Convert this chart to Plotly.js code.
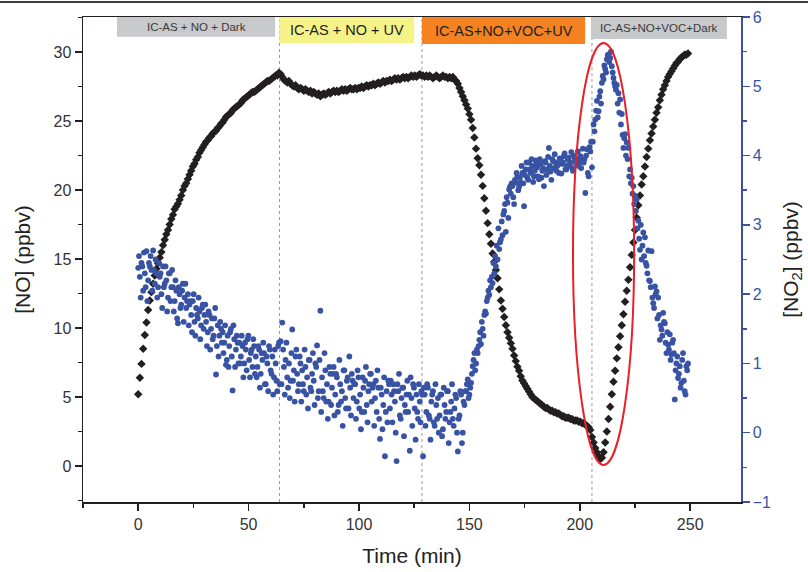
<!DOCTYPE html>
<html>
<head>
<meta charset="utf-8">
<script src="https://cdn.plot.ly/plotly-3.0.1.min.js"></script>
<style>html,body{margin:0;padding:0;background:#fff;}#chart{width:808px;height:572px;}</style>
</head>
<body>
<div id="chart"></div>
<script>
// ---- sampling grid (min) ----
const timeStep = 0.75;

// ---- [NO] (ppbv), black diamonds, per phase ----
const noPhase1Start = 0;
const noPhase1 = [5.2,6.4,7.4,8.5,9.5,10.4,11.3,12.0,12.6,13.2,13.8,14.3,14.7,15.1,15.5,16.0,16.4,16.8,17.1,17.5,
17.9,18.2,18.6,18.8,19.0,19.3,19.6,20.0,20.3,20.5,20.8,21.1,21.4,21.7,21.9,22.2,22.4,22.7,22.9,23.1,
23.3,23.5,23.6,23.8,23.9,24.1,24.2,24.3,24.5,24.6,24.8,24.9,25.1,25.3,25.4,25.5,25.6,25.8,25.9,26.0,
26.1,26.2,26.3,26.5,26.6,26.7,26.8,26.9,27.0,27.1,27.1,27.2,27.3,27.4,27.5,27.6,27.7,27.8,27.9,27.9,
28.0,28.1,28.2,28.3,28.3,28.5];
const noPhase2Start = 64.5;
const noPhase2 = [28.4,28.2,28.0,27.9,27.8,27.9,27.7,27.6,27.5,27.6,27.4,27.3,27.4,27.3,27.2,27.3,27.2,27.1,27.2,27.0,
27.1,27.0,26.9,27.0,26.8,26.9,27.0,26.9,27.0,27.1,27.0,27.1,27.2,27.1,27.2,27.1,27.2,27.3,27.2,27.3,
27.2,27.3,27.4,27.3,27.3,27.4,27.3,27.4,27.4,27.5,27.4,27.5,27.6,27.5,27.6,27.6,27.7,27.6,27.7,27.8,
27.7,27.8,27.9,27.8,27.9,27.9,28.0,27.9,28.0,28.1,28.0,28.1,28.0,28.1,28.2,28.1,28.2,28.1,28.2,28.3,
28.2,28.3,28.2,28.3,28.4,28.3];
const noPhase3Start = 129;
const noPhase3 = [28.3,28.2,28.3,28.2,28.3,28.2,28.1,28.2,28.3,28.2,28.1,28.2,28.3,28.2,28.2,28.1,28.2,28.1,28.2,28.0,
27.9,27.7,27.4,27.1,26.8,26.5,26.2,25.9,25.5,25.1,24.5,23.8,23.0,22.3,21.8,21.1,20.3,19.4,18.5,17.6,
16.8,16.1,15.4,14.8,14.2,13.6,12.8,12.0,11.4,10.8,10.2,9.7,9.3,8.9,8.5,8.0,7.6,7.2,6.9,6.5,
6.2,6.0,5.8,5.6,5.4,5.2,5.0,4.9,4.8,4.7,4.6,4.5,4.4,4.3,4.2,4.2,4.1,4.0,4.0,3.9,
3.9,3.8,3.8,3.7,3.6,3.6,3.5,3.5,3.5,3.4,3.4,3.3,3.3,3.3,3.2,3.2,3.1,3.1,3.0,2.9,
2.8,2.6];
const noPhase4Start = 205.5;
const noPhase4 = [2.1,1.7,1.3,1.0,0.7,0.5,0.6,1.0,1.7,2.5,3.4,4.3,5.2,6.1,6.9,7.8,8.6,9.4,10.2,11.0,
11.9,12.7,13.5,14.4,15.3,16.2,17.1,18.0,18.9,19.6,20.4,21.0,21.7,22.4,23.0,23.6,24.1,24.6,25.1,25.6,
26.0,26.5,26.9,27.3,27.6,27.9,28.2,28.4,28.6,28.8,29.0,29.2,29.3,29.5,29.6,29.7,29.8,29.8,29.9];

// ---- [NO2] (ppbv), blue circles, per phase (two interleaved sample sets) ----
const no2Phase1Start = 0;
const no2Phase1 = [2.38,2.25,2.45,2.05,2.3,2.62,2.2,2.4,2.35,2.63,2.15,
2.3,2.1,2.25,2.0,2.4,2.15,2.2,1.95,2.3,2.1,
2.1,1.9,2.05,1.58,2.0,1.85,2.15,1.95,1.8,2.0,
1.85,1.7,1.9,1.6,1.8,1.65,1.75,1.55,1.85,1.7,
1.6,1.45,1.7,1.5,1.35,1.65,0.84,1.55,1.4,1.5,
1.45,1.3,0.98,1.4,1.25,1.5,0.61,1.35,1.2,1.3,
1.3,1.1,1.25,1.0,1.2,1.35,1.05,1.15,0.95,1.25,
1.1,0.95,1.2,0.85,1.05,1.15,0.7,1.0,1.25,0.9,1.1,0.8,1.0,0.6,1.3];
const no2Phase1bStart = 0.375;
const no2Phase1b = [2.55,1.95,2.4,2.6,2.1,1.9,2.45,2.55,2.05,2.35,2.5,
1.95,2.45,2.3,1.8,2.1,2.4,1.75,2.3,1.9,2.35,
1.75,2.2,1.65,2.1,1.8,2.05,1.6,2.15,1.9,1.55,
1.9,1.45,2.0,1.4,1.7,1.95,1.35,1.8,1.5,1.85,
1.25,1.75,1.2,1.65,1.4,1.8,1.25,1.1,1.6,1.3,
1.15,1.55,1.05,0.95,1.45,1.1,1.55,0.95,1.4,1.0,
1.0,1.4,0.8,1.3,0.9,1.4,0.8,1.2,1.35,0.85,
0.8,1.25,0.65,1.15,1.3,0.7,1.1,0.6,1.2,0.85,0.55,1.2,0.75,1.25,0.7];
const no2Phase2Start = 64.5;
const no2Phase2 = [1.32,1.59,0.95,1.05,0.8,1.0,0.75,1.49,0.9,1.1,0.85,
0.7,1.0,0.9,0.6,0.95,0.8,1.05,0.65,0.85,0.75,1.0,
1.26,0.6,1.76,0.8,0.5,0.9,0.7,0.45,0.85,0.65,0.95,
0.55,0.8,0.4,0.7,0.6,0.9,0.5,0.75,0.35,0.65,0.85,
0.5,0.7,0.45,0.8,0.55,0.3,0.65,0.75,0.4,0.6,0.85,
0.45,0.7,0.5,0.3,0.65,-0.09,0.55,0.4,-0.34,0.6,0.75,
0.35,0.55,0.7,0.45,-0.41,0.6,0.25,0.5,0.65,0.4,0.55,
0.3,-0.26,0.5,0.7,0.35,0.55,0.2,0.45,0.6];
const no2Phase2bStart = 64.875;
const no2Phase2b = [0.7,1.2,0.55,1.3,0.65,0.5,1.15,0.75,0.45,1.2,0.6,
1.1,0.45,0.7,1.2,0.55,0.35,1.05,0.6,1.15,0.4,0.95,
0.5,1.05,0.3,0.6,1.15,0.45,0.2,0.95,0.4,0.85,0.25,
0.85,0.3,1.05,0.45,0.1,0.9,0.35,0.8,1.1,0.25,0.75,
0.7,0.2,0.9,0.35,0.05,0.8,0.3,0.95,0.15,0.7,0.85,
0.65,0.1,0.75,0.9,0.2,0.65,0.05,0.8,0.3,0.15,0.7,
0.75,0.15,0.6,0.0,0.7,0.85,0.2,0.65,-0.05,0.3,0.75,
0.55,0.8,0.1,0.65,-0.1,0.3,0.7,0.15,0.55];
const no2Phase3Start = 129;
const no2Phase3 = [-0.34,0.55,0.3,0.65,0.2,0.45,0.6,0.1,0.4,0.5,
0.25,0.55,0.05,0.4,0.3,0.6,0.15,0.45,0.2,0.35,
0.5,-0.27,0.25,0.55,0.0,0.4,
0.6,0.77,0.55,0.72,0.96,1.15,1.0,
1.15,1.34,1.28,1.5,1.7,1.72,1.95,1.99,2.1,2.16,2.3,2.4,2.5,2.65,2.79,2.85,
3.2,2.9,3.32,3.51,3.45,3.56,3.3,
3.61,3.7,3.55,3.61,3.75,3.27,3.8,3.68,3.9,3.75,3.85,3.7,3.93,3.83,3.66,3.88,3.78,3.56,3.9,3.8,
4.11,3.77,3.95,3.82,3.9,3.85,3.75,3.95,3.88,3.99,3.8,3.85,3.97,3.9,3.82,4.0,3.92,3.95,3.85,3.99,
3.93,3.9,3.46,4.09,3.7,4.06];
const no2Phase3bStart = 129.375;
const no2Phase3b = [0.65,0.1,0.7,0.25,-0.1,0.55,0.15,0.7,0.2,0.0,
0.55,-0.05,0.65,0.2,0.6,-0.15,0.3,0.7,0.1,0.55,
0.0,0.2,0.6,-0.15,0.45,0.6,
0.7,0.5,0.65,0.85,1.05,0.9,1.2,
1.25,1.45,1.6,1.4,1.75,1.9,2.05,2.2,2.25,2.45,2.55,2.7,2.95,2.75,3.05,3.15,
3.3,3.4,3.1,3.55,3.6,3.4,3.65,
3.75,3.5,3.68,3.85,3.6,3.72,3.9,3.65,3.8,3.95,3.62,3.78,3.88,3.7,3.95,3.68,
3.82,3.92,3.72,3.98,3.85,3.65,3.92,4.02,3.78,3.88,3.96,3.74,3.9,4.03,3.8,3.94,3.86,4.05,3.78,3.97,
3.88,4.06,3.92,3.82,4.1,3.95,4.0,3.75,4.12,4.2];
const no2Phase4Start = 205.5;
const no2Phase4 = [3.83,4.45,4.52,4.79,4.64,4.93,5.05,5.1,5.25,5.39,
5.46,5.41,5.29,5.12,5.0,5.02,4.9,4.81,4.6,4.11,
4.31,4.19,4.11,3.8,3.68,3.56,3.42,3.37,3.06,2.64,
2.5,2.89,2.82,2.41,2.63,2.19,2.62,1.87,2.11,2.04,
1.95,1.34,1.49,1.73,1.58,1.15,1.27,1.42,1.13,1.34,
0.48,1.0,0.79,0.96,0.72,1.15,0.6,0.96,1.0];
const no2Phase4bStart = 205.875;
const no2Phase4b = [4.2,4.35,4.65,4.55,4.85,4.75,5.15,5.3,5.2,5.45,
5.35,5.5,5.2,5.05,4.95,4.75,4.62,4.45,4.3,4.25,
4.0,3.95,3.7,3.6,3.45,3.3,3.2,2.95,2.8,3.0,
2.7,2.55,2.45,2.3,2.2,2.1,1.95,1.8,2.0,1.65,
1.7,1.55,1.4,1.6,1.3,1.45,1.2,1.05,1.3,1.15,
0.9,1.1,0.85,0.65,1.05,0.75,0.55,0.9];

// ---- phase boundaries and labels ----
const phaseLines = [64, 128.5, 205.5];
const phaseLabels = ["IC-AS + NO + Dark", "IC-AS + NO + UV", "IC-AS+NO+VOC+UV", "IC-AS+NO+VOC+Dark"];
const xTicks = [0, 50, 100, 150, 200, 250];
const yTicks = [0, 5, 10, 15, 20, 25, 30];
const y2Ticks = [-1, 0, 1, 2, 3, 4, 5, 6];

function expand(segs) {
  const xs = [], ys = [];
  segs.forEach(([start, vals]) => vals.forEach((v, i) => { xs.push(start + i * timeStep); ys.push(v); }));
  return [xs, ys];
}
const [noX, noY] = expand([[noPhase1Start, noPhase1], [noPhase2Start, noPhase2], [noPhase3Start, noPhase3], [noPhase4Start, noPhase4]]);
const [no2X, no2Y] = expand([
  [no2Phase1Start, no2Phase1], [no2Phase1bStart, no2Phase1b],
  [no2Phase2Start, no2Phase2], [no2Phase2bStart, no2Phase2b],
  [no2Phase3Start, no2Phase3], [no2Phase3bStart, no2Phase3b],
  [no2Phase4Start, no2Phase4], [no2Phase4bStart, no2Phase4b]]);

const BLUE = '#3953a4';
const DARK = '#231f20';
const FONT = 'Liberation Sans, Arial, Helvetica, sans-serif';

const traces = [
  { x: no2X, y: no2Y, yaxis: 'y2', type: 'scatter', mode: 'markers', name: 'NO2',
    marker: { symbol: 'circle', size: 5.8, color: BLUE } },
  { x: noX, y: noY, type: 'scatter', mode: 'markers', name: 'NO',
    marker: { symbol: 'diamond', size: 6.5, color: DARK } }
];

const shapes = [];
phaseLines.forEach(t => shapes.push({ type: 'line', xref: 'x', yref: 'paper', x0: t, x1: t, y0: 0, y1: 1,
  line: { color: '#9a9a9a', width: 1, dash: 'dot' }, layer: 'below' }));
// label boxes (x in data units, y in paper units)
const boxes = [
  { x0: -9.6, x1: 62.0, y0: 0.9594, fill: '#c8c9cb', size: 11.5, color: '#3a3a3a' },
  { x0: 63.9, x1: 125.0, y0: 0.9464, fill: '#f5f288', size: 14.5, color: '#231f20' },
  { x0: 128.5, x1: 202.4, y0: 0.9443, fill: '#f58220', size: 14.5, color: '#231f20' },
  { x0: 205.0, x1: 266.6, y0: 0.9546, fill: '#c8c9cb', size: 11.5, color: '#3a3a3a' }
];
const annotations = [];
boxes.forEach((b, i) => {
  shapes.push({ type: 'rect', xref: 'x', yref: 'paper', x0: b.x0, x1: b.x1, y0: b.y0, y1: 1,
    fillcolor: b.fill, line: { width: 0 }, layer: 'above' });
  annotations.push({ xref: 'x', yref: 'paper', x: (b.x0 + b.x1) / 2, y: (b.y0 + 1) / 2, text: phaseLabels[i],
    showarrow: false, font: { family: FONT, size: b.size, color: b.color }, xanchor: 'center', yanchor: 'middle' });
});
// red ellipse highlighting the NO2 peak
shapes.push({ type: 'circle', xref: 'x', yref: 'y', x0: 196.9, x1: 224.6, y0: 0.07, y1: 30.66,
  line: { color: '#e8202a', width: 2 }, layer: 'above' });
// dark rule at the top edge of the figure
shapes.push({ type: 'line', xref: 'paper', yref: 'paper', x0: -0.2, x1: 1.2, y0: 1.031, y1: 1.031,
  line: { color: '#3c3c3c', width: 2 } });

const layout = {
  width: 808, height: 572,
  margin: { l: 83, r: 67, t: 17, b: 70 },
  paper_bgcolor: '#fff', plot_bgcolor: '#fff',
  showlegend: false,
  font: { family: FONT, color: DARK },
  xaxis: {
    range: [-25, 273], tickvals: xTicks, ticks: 'outside', ticklen: 7, tickwidth: 1.5, tickcolor: DARK,
    minor: { dtick: 25, tick0: 0, ticks: 'outside', ticklen: 4, tickwidth: 1.5, tickcolor: DARK },
    showline: true, linecolor: DARK, linewidth: 1.5, mirror: true, showgrid: false, zeroline: false,
    tickfont: { family: FONT, size: 16, color: '#333' },
    title: { text: 'Time (min)', font: { family: FONT, size: 21, color: '#222' }, standoff: 16 }
  },
  yaxis: {
    range: [-2.61, 32.54], tickvals: yTicks, ticks: 'outside', ticklen: 7, tickwidth: 1.5, tickcolor: DARK,
    minor: { dtick: 2.5, tick0: 0, ticks: 'outside', ticklen: 4, tickwidth: 1.5, tickcolor: DARK },
    showline: true, linecolor: DARK, linewidth: 1.5, showgrid: false, zeroline: false,
    tickfont: { family: FONT, size: 16, color: '#333' },
    title: { text: '[NO] (ppbv)', font: { family: FONT, size: 21, color: '#222' }, standoff: 17 }
  },
  yaxis2: {
    overlaying: 'y', side: 'right', range: [-1, 6], tickvals: y2Ticks, ticks: 'outside', ticklen: 7,
    tickwidth: 1.5, tickcolor: BLUE,
    minor: { dtick: 0.5, tick0: 0, ticks: 'outside', ticklen: 4, tickwidth: 1.5, tickcolor: BLUE },
    showline: true, linecolor: BLUE, linewidth: 1.5, showgrid: false, zeroline: false,
    tickfont: { family: FONT, size: 16, color: BLUE },
    title: { text: '[NO<sub>2</sub>] (ppbv)', font: { family: FONT, size: 21, color: '#222' }, standoff: 13 }
  },
  shapes: shapes,
  annotations: annotations
};

Plotly.newPlot('chart', traces, layout, { staticPlot: true, displayModeBar: false });
</script>
</body>
</html>
